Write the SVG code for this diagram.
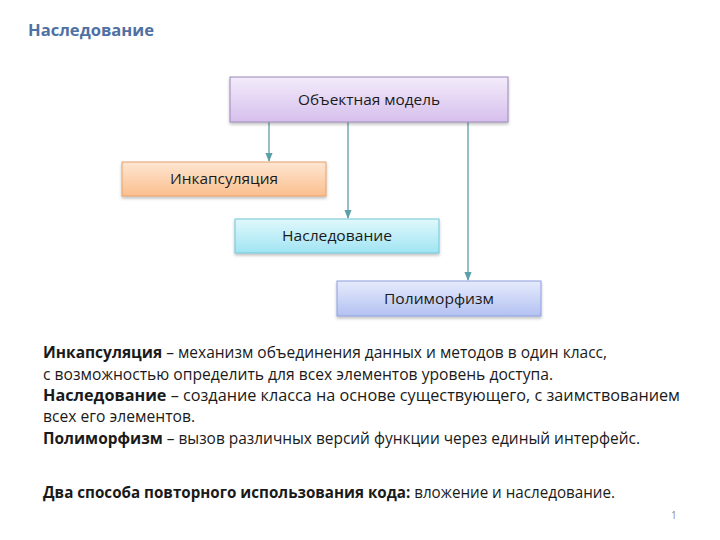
<svg xmlns="http://www.w3.org/2000/svg" width="720" height="540" viewBox="0 0 720 540">
<defs>
<linearGradient id="gP" x1="0" y1="0" x2="0" y2="1"><stop offset="0" stop-color="#f3ecfb"/><stop offset="1" stop-color="#d6bfec"/></linearGradient>
<linearGradient id="gO" x1="0" y1="0" x2="0" y2="1"><stop offset="0" stop-color="#fee6d2"/><stop offset="1" stop-color="#fbbf8e"/></linearGradient>
<linearGradient id="gC" x1="0" y1="0" x2="0" y2="1"><stop offset="0" stop-color="#e0f8fc"/><stop offset="1" stop-color="#a0e4f2"/></linearGradient>
<linearGradient id="gB" x1="0" y1="0" x2="0" y2="1"><stop offset="0" stop-color="#e6ebfc"/><stop offset="1" stop-color="#b3c1f2"/></linearGradient>
<filter id="sh" x="-10%" y="-20%" width="120%" height="150%"><feDropShadow dx="0" dy="2" stdDeviation="1.5" flood-color="#000" flood-opacity="0.25"/></filter>
<marker id="ar" viewBox="0 0 10 10" refX="9" refY="5" markerWidth="7" markerHeight="7" orient="auto"><path d="M0,1 L10,5 L0,9 z" fill="#5b9fa8"/></marker>
<style>
.box{stroke-width:1;filter:url(#sh)}
.lbl{font-family:"Open Sans","Noto Sans",sans-serif;font-size:15px;fill:#1a1a1a;text-anchor:middle}
.body{font-family:"Open Sans","Noto Sans",sans-serif;font-size:16px;fill:#1a1a1a}
.b{font-weight:bold}
.con{stroke:#5b9fa8;stroke-width:1.3;fill:none;marker-end:url(#ar)}
</style>
</defs>
<rect width="720" height="540" fill="#fff"/>
<text x="28" y="36" font-family="'Open Sans','Noto Sans',sans-serif" font-size="16" font-weight="bold" fill="#4f70a3" textLength="126" lengthAdjust="spacingAndGlyphs">Наследование</text>
<g id="connectors">
<line class="con" x1="269" y1="122" x2="269" y2="161"/>
<line class="con" x1="348" y1="122" x2="348" y2="218"/>
<line class="con" x1="468" y1="122" x2="468" y2="280"/>
</g>
<g id="n-object"><rect class="box" x="230" y="77" width="278" height="45" fill="url(#gP)" stroke="#9c88b8"/><text class="lbl" x="369" y="105" textLength="142" lengthAdjust="spacingAndGlyphs">Объектная модель</text></g>
<g id="n-encap"><rect class="box" x="122" y="162" width="204" height="34" fill="url(#gO)" stroke="#e6a06c"/><text class="lbl" x="224" y="184" textLength="108" lengthAdjust="spacingAndGlyphs">Инкапсуляция</text></g>
<g id="n-inherit"><rect class="box" x="235" y="219" width="204" height="34" fill="url(#gC)" stroke="#6fc6d8"/><text class="lbl" x="337" y="241" textLength="110" lengthAdjust="spacingAndGlyphs">Наследование</text></g>
<g id="n-poly"><rect class="box" x="337" y="281" width="204" height="35" fill="url(#gB)" stroke="#8d9fe0"/><text class="lbl" x="439" y="304" textLength="110" lengthAdjust="spacingAndGlyphs">Полиморфизм</text></g>
<g id="text">
<text class="body" x="43" y="358" textLength="564" lengthAdjust="spacingAndGlyphs"><tspan class="b">Инкапсуляция</tspan> – механизм объединения данных и методов в один класс,</text>
<text class="body" x="43" y="380" textLength="510" lengthAdjust="spacingAndGlyphs">с возможностью определить для всех элементов уровень доступа.</text>
<text class="body" x="43" y="401" textLength="637" lengthAdjust="spacingAndGlyphs"><tspan class="b">Наследование</tspan> – создание класса на основе существующего, с заимствованием</text>
<text class="body" x="43" y="422" textLength="152" lengthAdjust="spacingAndGlyphs">всех его элементов.</text>
<text class="body" x="43" y="444" textLength="597" lengthAdjust="spacingAndGlyphs"><tspan class="b">Полиморфизм</tspan> – вызов различных версий функции через единый интерфейс.</text>
<text class="body" x="43" y="498" textLength="572" lengthAdjust="spacingAndGlyphs"><tspan class="b">Два способа повторного использования кода:</tspan> вложение и наследование.</text>
<text x="671" y="519" font-family="'Open Sans',sans-serif" font-size="10" fill="#8c8c8c">1</text>
</g>
</svg>
